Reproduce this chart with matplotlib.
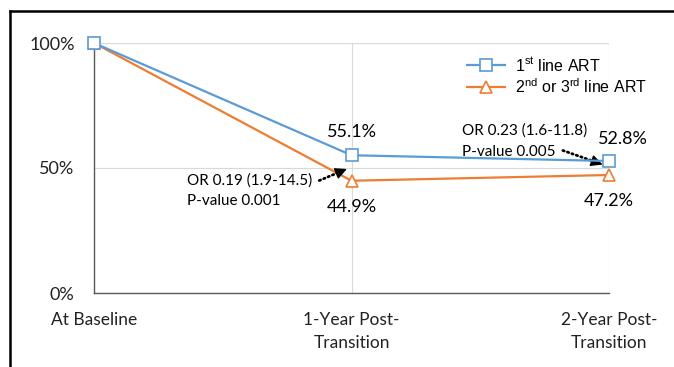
import matplotlib
matplotlib.use("Agg")
import matplotlib.pyplot as plt
from matplotlib.lines import Line2D

# data
categories = ["At Baseline", "1-Year Post-\nTransition", "2-Year Post-\nTransition"]
first_line = [100, 55.1, 52.8]
second_third_line = [100, 44.9, 47.2]
first_labels = ["", "55.1%", "52.8%"]
second_labels = ["", "44.9%", "47.2%"]
yticks = [0, 50, 100]
ytick_labels = ["0%", "50%", "100%"]

blue = "#5B9BD5"
orange = "#ED7D31"

plt.rcParams["font.family"] = ["Lato", "DejaVu Sans"]

W, H = 674, 367
fig = plt.figure(figsize=(W / 100, H / 100), dpi=100)
fig.patch.set_facecolor("white")

# outer black frame (left and top edges visible)
fig.add_artist(Line2D([10 / W, 10 / W], [0, 1 - 11 / H], color="black", lw=1.8,
                      transform=fig.transFigure))
fig.add_artist(Line2D([10 / W, 1], [1 - 11 / H, 1 - 11 / H], color="black", lw=1.8,
                      transform=fig.transFigure))

ax = fig.add_axes([94 / W, 1 - 293 / H, (609 - 94) / W, (293 - 43) / H])
x = list(range(len(categories)))

ax.plot(x, first_line, color=blue, lw=1.6, marker="s", ms=8, mfc="white",
        mec=blue, mew=1.2, zorder=4, clip_on=False, label="1$^{\\mathregular{st}}$ line ART")
ax.plot(x, second_third_line, color=orange, lw=1.6, marker="^", ms=9, mfc="white",
        mec=orange, mew=1.2, zorder=3, clip_on=False,
        label="2$^{\\mathregular{nd}}$ or 3$^{\\mathregular{rd}}$ line ART")

ax.set_xlim(0, 2)
ax.set_ylim(0, 100)
ax.set_xticks(x)
ax.set_xticklabels(categories, fontsize=12.5, color="#222222", linespacing=1.5)
ax.set_yticks(yticks)
ax.set_yticklabels(ytick_labels, fontsize=13, color="#222222")
ax.tick_params(axis="both", length=0)
ax.tick_params(axis="y", pad=14)
ax.tick_params(axis="x", pad=14)
ax.grid(True, color="#d9d9d9", lw=0.8)
ax.set_axisbelow(True)
for s in ["top", "right"]:
    ax.spines[s].set_visible(False)
for s in ["left", "bottom"]:
    ax.spines[s].set_color("#595959")
    ax.spines[s].set_linewidth(1.0)

# data labels
ax.annotate(first_labels[1], (1, first_line[1]), xytext=(0, 17), textcoords="offset points",
            ha="center", va="center", fontsize=13)
ax.annotate(second_labels[1], (1, second_third_line[1]), xytext=(0, -19),
            textcoords="offset points", ha="center", va="center", fontsize=13)
ax.annotate(first_labels[2], (2, first_line[2]), xytext=(10, 16), textcoords="offset points",
            ha="center", va="center", fontsize=13,
            arrowprops=dict(arrowstyle="-", color="#a6a6a6", lw=0.7,
                            shrinkA=7, shrinkB=4))
ax.annotate(second_labels[2], (2, second_third_line[2]), xytext=(0, -19),
            textcoords="offset points", ha="center", va="center", fontsize=13)


def dotted_arrow(tail, head, frac):
    # dotted shaft, then a solid head at the end
    mid = (tail[0] + (head[0] - tail[0]) * frac, tail[1] + (head[1] - tail[1]) * frac)
    ax.annotate("", xy=mid, xytext=tail,
                arrowprops=dict(arrowstyle="-", color="black", lw=2.0,
                                ls=(0, (0.5, 1.2)), shrinkA=0, shrinkB=0))
    ax.annotate("", xy=head, xytext=mid,
                arrowprops=dict(arrowstyle="-|>,head_length=0.7,head_width=0.35",
                                color="black", lw=1.0, shrinkA=0, shrinkB=0))


# odds ratio annotations
ax.text(0.361, 45.0, "OR 0.19 (1.9-14.5)", fontsize=11, ha="left", va="center")
ax.text(0.361, 36.7, "P-value 0.001", fontsize=11, ha="left", va="center")
dotted_arrow((0.875, 45.0), (0.982, 49.6), 0.7)
ax.text(1.429, 64.9, "OR 0.23 (1.6-11.8)", fontsize=11, ha="left", va="center")
ax.text(1.429, 56.2, "P-value 0.005", fontsize=11, ha="left", va="center")
dotted_arrow((1.821, 57.0), (1.975, 51.4), 0.8)

leg = ax.legend(loc="upper left", bbox_to_anchor=(467 / W, 1 - 56 / H),
                bbox_transform=fig.transFigure, frameon=False,
                prop={"family": ["Liberation Sans", "DejaVu Sans"], "size": 11.5},
                handlelength=2.4, handletextpad=0.6, labelspacing=0.2,
                borderaxespad=0, borderpad=0)

fig.savefig("out.png", dpi=100, facecolor="white")
